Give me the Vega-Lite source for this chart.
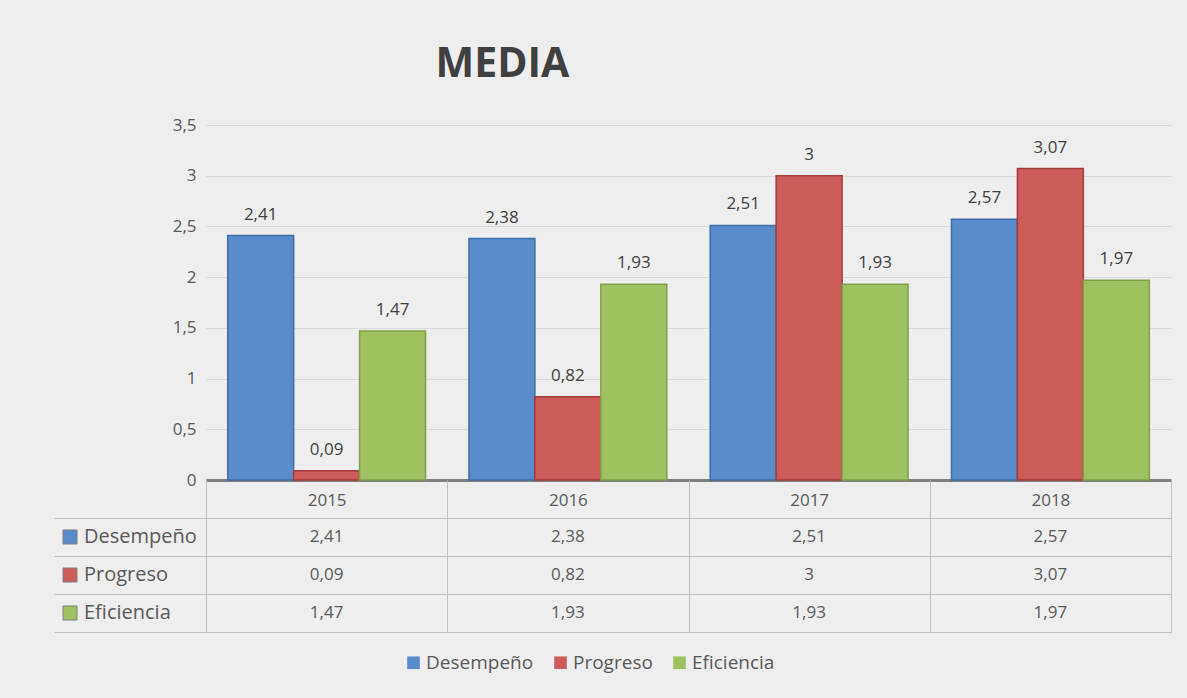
{
  "$schema": "https://vega.github.io/schema/vega-lite/v6.json",
  "padding": {"left": 53, "top": 44, "right": 17, "bottom": 30},
  "background": "#eeeeee",
  "title": {"text": "MEDIA", "fontSize": 41, "font": "Open Sans", "fontWeight": "bold", "color": "#404040", "anchor": "middle", "dx": -110, "offset": 30},
  "datasets": {
    "media": [
      {"year": "2015", "serie": "Desempeño", "value": 2.41},
      {"year": "2015", "serie": "Progreso", "value": 0.09},
      {"year": "2015", "serie": "Eficiencia", "value": 1.47},
      {"year": "2016", "serie": "Desempeño", "value": 2.38},
      {"year": "2016", "serie": "Progreso", "value": 0.82},
      {"year": "2016", "serie": "Eficiencia", "value": 1.93},
      {"year": "2017", "serie": "Desempeño", "value": 2.51},
      {"year": "2017", "serie": "Progreso", "value": 3.0},
      {"year": "2017", "serie": "Eficiencia", "value": 1.93},
      {"year": "2018", "serie": "Desempeño", "value": 2.57},
      {"year": "2018", "serie": "Progreso", "value": 3.07},
      {"year": "2018", "serie": "Eficiencia", "value": 1.97}
    ]
  },
  "bounds": "flush",
  "spacing": 38,
  "resolve": {"scale": {"color": "shared", "x": "independent", "fill": "independent"}, "legend": {"fill": "independent"}},
  "vconcat": [
    {
      "width": 965,
      "height": 355,
      "data": {"name": "media"},
      "encoding": {
        "x": {"field": "year", "type": "nominal", "scale": {"paddingInner": 0.18, "paddingOuter": 0.09},
              "axis": {"labels": false, "ticks": false, "title": null, "domain": true, "domainColor": "#7f7f7f", "domainWidth": 3}},
        "xOffset": {"field": "serie", "type": "nominal", "sort": ["Desempeño", "Progreso", "Eficiencia"], "scale": {"paddingInner": 0, "paddingOuter": 0}},
        "y": {"field": "value", "type": "quantitative", "scale": {"domain": [0, 3.5]},
              "axis": {"values": [0, 0.5, 1, 1.5, 2, 2.5, 3, 3.5], "format": ".1~f", "title": null, "domain": false, "ticks": false,
                       "gridColor": "#d9d9d9", "gridWidth": 1, "labelFontSize": 17, "labelColor": "#595959", "labelPadding": 10}}
      },
      "layer": [
        {
          "mark": {"type": "bar", "strokeWidth": 1.5},
          "encoding": {
            "color": {"field": "serie", "type": "nominal",
                      "scale": {"domain": ["Desempeño", "Progreso", "Eficiencia"], "range": ["#5a8ccb", "#cd5c5a", "#a0c162"]},
                      "legend": {"orient": "none", "legendX": 198, "legendY": 528, "direction": "horizontal", "title": null,
                                 "symbolType": "square", "symbolSize": 160, "symbolStrokeWidth": 0, "symbolOpacity": 1, "labelFontSize": 19, "labelColor": "#595959",
                                 "columnPadding": 17, "labelOffset": 3}},
            "stroke": {"field": "serie", "type": "nominal",
                       "scale": {"domain": ["Desempeño", "Progreso", "Eficiencia"], "range": ["#3f6ea8", "#a33d3a", "#7f9f45"]},
                       "legend": null}
          }
        },
        {
          "mark": {"type": "text", "baseline": "bottom", "dy": -12, "fontSize": 17, "color": "#404040"},
          "encoding": {"text": {"field": "value", "type": "quantitative", "format": ".2~f"}}
        }
      ]
    },
    {
      "width": 965,
      "height": 114,
      "data": {"name": "media"},
      "resolve": {"scale": {"fill": "independent"}},
      "layer": [
        {
          "mark": {"type": "text", "fontSize": 17, "color": "#595959"},
          "encoding": {
            "x": {"field": "year", "type": "nominal", "scale": {"paddingInner": 0, "paddingOuter": 0},
                  "axis": {"orient": "top", "tickBand": "extent", "tickSize": 38, "tickColor": "#bfbfbf", "tickWidth": 1,
                           "labelPadding": -29, "labelFontSize": 17, "labelColor": "#595959", "labelAngle": 0,
                           "grid": true, "gridColor": "#bfbfbf", "domainColor": "#bfbfbf", "title": null}},
            "y": {"field": "serie", "type": "nominal", "sort": ["Desempeño", "Progreso", "Eficiencia"], "scale": {"paddingInner": 0, "paddingOuter": 0},
                  "axis": {"labels": false, "tickBand": "extent", "tickSize": 152, "tickColor": "#bfbfbf", "tickWidth": 1,
                           "grid": true, "gridColor": "#bfbfbf", "domainColor": "#bfbfbf", "title": null}},
            "text": {"field": "value", "type": "quantitative", "format": ".2~f"}
          }
        },
        {
          "transform": [{"filter": "false"}],
          "mark": "square",
          "encoding": {
            "fill": {"field": "serie", "type": "nominal", "title": "Serie",
                     "scale": {"domain": ["Desempeño", "Progreso", "Eficiencia"], "range": ["#5a8ccb", "#cd5c5a", "#a0c162"]},
                     "legend": {"orient": "none", "legendX": -146, "legendY": 9, "title": null, "padding": 0,
                                "symbolType": "square", "symbolSize": 196, "symbolStrokeWidth": 1, "symbolStrokeColor": "#7f7f7f", "symbolOpacity": 1,
                                "labelFontSize": 20, "labelColor": "#595959", "rowPadding": 18, "labelOffset": 4}}
          }
        }
      ]
    }
  ],
  "config": {
    "font": "Open Sans",
    "view": {"stroke": null},
    "locale": {"number": {"decimal": ",", "thousands": ".", "grouping": [3], "currency": ["", " €"]}}
  }
}
